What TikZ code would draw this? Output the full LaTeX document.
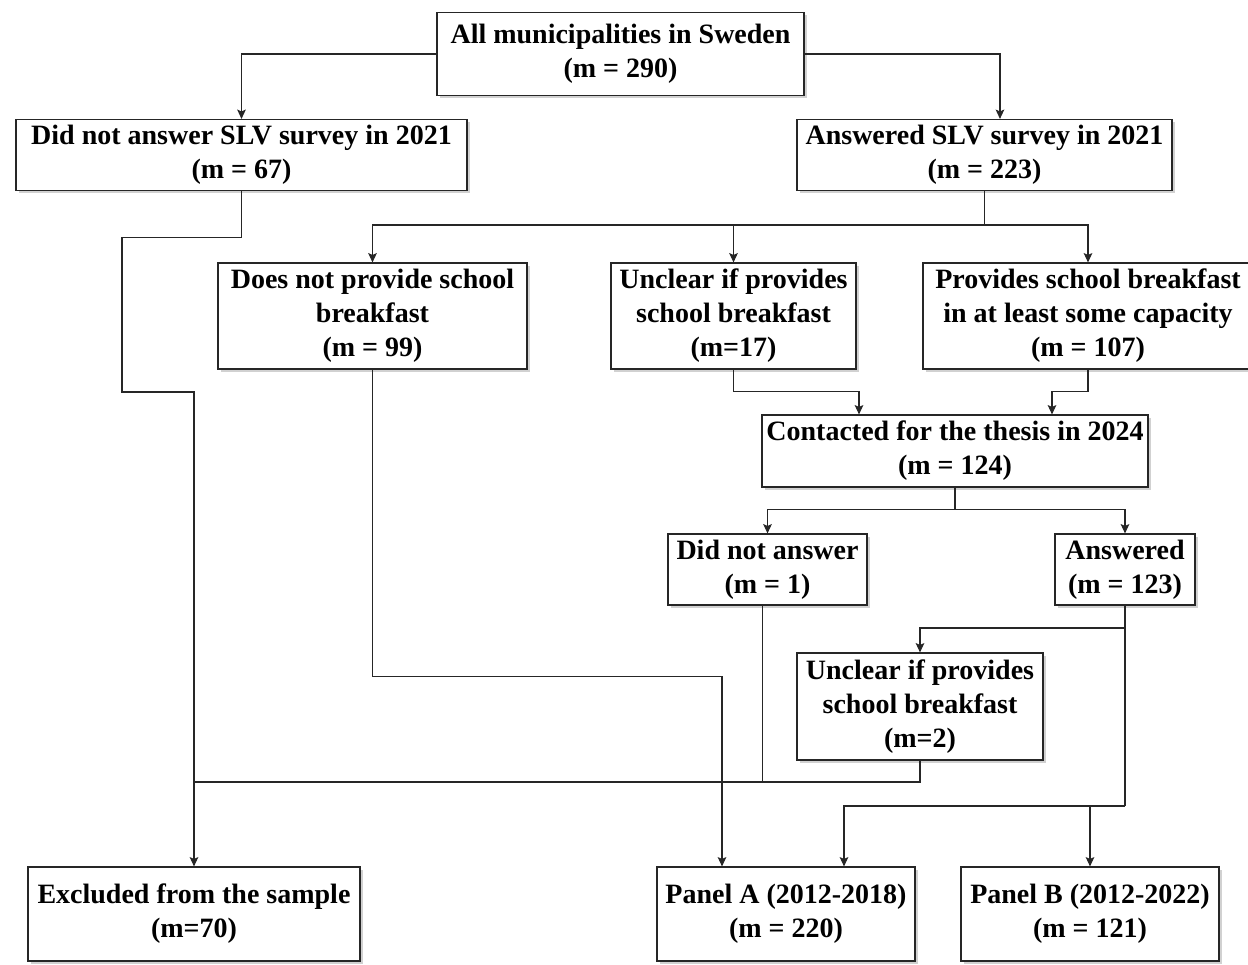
\documentclass[tikz,border=0pt]{standalone}
\usepackage{fontspec}
\setmainfont{Liberation Serif}
\usetikzlibrary{arrows.meta,shadows}
\begin{document}
\begin{tikzpicture}[x=0.75pt,y=-0.75pt,
  box/.style={draw=black!85, line width=0.9pt, fill=white, align=center, inner sep=1pt,
     font=\fontsize{21}{25.5}\selectfont\bfseries,
     drop shadow={shadow xshift=2pt, shadow yshift=-2pt, opacity=0.3, fill=black!60}},
  conn/.style={draw=black!85, line width=0.8pt},
  arr/.style={conn, -{Stealth[length=7pt,width=6.5pt,inset=1.4pt]}}]
\useasboundingbox (0,0) rectangle (1248,964);

\node[box, minimum width=275.25pt, minimum height=62.25pt] (top) at (620.5,54) {All municipalities in Sweden\\(m = 290)};
\node[box, minimum width=338.25pt, minimum height=53.25pt] (didnot) at (241.5,155) {Did not answer SLV survey in 2021\\(m = 67)};
\node[box, minimum width=281.25pt, minimum height=53.25pt] (answered) at (984.5,155) {Answered SLV survey in 2021\\(m = 223)};
\node[box, minimum width=231.75pt, minimum height=79.5pt] (doesnot) at (372.5,316) {Does not provide school\\breakfast\\(m = 99)};
\node[box, minimum width=183.75pt, minimum height=79.5pt] (unclear17) at (733.5,316) {Unclear if provides\\school breakfast\\(m=17)};
\node[box, minimum width=247.5pt, minimum height=79.5pt] (provides) at (1088,316) {Provides school breakfast\\in at least some capacity\\(m = 107)};
\node[box, minimum width=289.5pt, minimum height=54pt] (contacted) at (955,451) {Contacted for the thesis in 2024\\(m = 124)};
\node[box, minimum width=149.25pt, minimum height=53.25pt] (didnot1) at (767.5,569.5) {Did not answer\\(m = 1)};
\node[box, minimum width=105pt, minimum height=53.25pt] (answered123) at (1125,569.5) {Answered\\(m = 123)};
\node[box, minimum width=184.5pt, minimum height=80.25pt] (unclear2) at (920,706.5) {Unclear if provides\\school breakfast\\(m=2)};
\node[box, minimum width=249pt, minimum height=70.5pt] (excluded) at (194,914) {Excluded from the sample\\(m=70)};
\node[box, minimum width=193.5pt, minimum height=70.5pt] (panelA) at (786,914) {Panel A (2012-2018)\\(m = 220)};
\node[box, minimum width=193.5pt, minimum height=70.5pt] (panelB) at (1090,914) {Panel B (2012-2022)\\(m = 121)};

\draw[arr] (top.west) -| (didnot.north);
\draw[arr] (top.east) -| ([xshift=11.6pt]answered.north);

\coordinate (j1) at (984.5,225);
\draw[conn] (answered.south) -- (j1);
\draw[arr] (j1) -| (doesnot.north);
\draw[arr] (j1) -| (unclear17.north);
\draw[arr] (j1) -| (provides.north);

\draw[arr] (unclear17.south) -- ++(0,22) -| ([xshift=-72pt]contacted.north);
\draw[arr] (provides.south) -- ++(0,22) -| ([xshift=72.75pt]contacted.north);

\coordinate (j2) at (955,509.5);
\draw[conn] (contacted.south) -- (j2);
\draw[arr] (j2) -| (didnot1.north);
\draw[arr] (j2) -| (answered123.north);

\coordinate (j3) at (1125,628);
\coordinate (j4) at (1125,806);
\draw[conn] (answered123.south) -- (j4);
\draw[arr] (j3) -| (unclear2.north);
\draw[arr] (j4) -| ([xshift=43.5pt]panelA.north);
\draw[arr] (j4 -| panelB.north) -- (panelB.north);

\coordinate (j5) at (194,782);
\draw[conn] (unclear2.south) |- (j5);
\coordinate (d1) at ([xshift=-4pt]didnot1.south);
\draw[conn] (d1) -- (d1 |- j5);

\draw[arr] (didnot.south) -- ++(0,46) -| (122,392) -| (excluded.north);
\draw[arr] (doesnot.south) -- ++(0,307) -| ([xshift=-48pt]panelA.north);
\end{tikzpicture}
\end{document}
